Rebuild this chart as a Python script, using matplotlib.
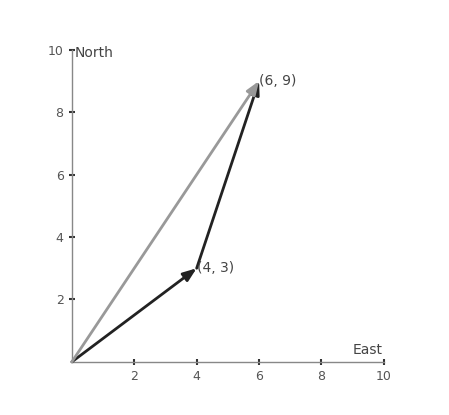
import matplotlib.pyplot as plt

# vector endpoints
start = [(0, 0), (4, 3), (0, 0)]
end = [(4, 3), (6, 9), (6, 9)]
colors = ['#222222', '#222222', '#999999']
ticks = [2, 4, 6, 8, 10]
labels = ['(4, 3)', '(6, 9)']
label_pts = [(4, 3), (6, 9)]

fig = plt.figure(figsize=(4.49, 4.15), dpi=100)
ax = fig.add_axes([0.160, 0.128, 0.695, 0.752])
ax.set_xlim(0, 10)
ax.set_ylim(0, 10)
for s in ['top', 'right']:
    ax.spines[s].set_visible(False)
for s in ['left', 'bottom']:
    ax.spines[s].set_color('#888888')
    ax.spines[s].set_linewidth(1)

ax.set_xticks(ticks)
ax.set_yticks(ticks)
ax.tick_params(direction='inout', length=5, width=1.5, color='#333333',
               labelsize=9, labelcolor='#555555')

for (x0, y0), (x1, y1), c in zip(start, end, colors):
    ax.annotate('', xy=(x1, y1), xytext=(x0, y0),
                arrowprops=dict(arrowstyle='-|>,head_length=0.8,head_width=0.3',
                                color=c, lw=2, shrinkA=0, shrinkB=0))

for t, (x, y) in zip(labels, label_pts):
    ax.text(x, y, t, fontsize=10, color='#444444', ha='left', va='center')

ax.text(0.1, 9.9, 'North', fontsize=10, color='#444444', ha='left', va='center')
ax.text(9.0, 0.15, 'East', fontsize=10, color='#444444', ha='left', va='bottom')

fig.savefig('out.png')
